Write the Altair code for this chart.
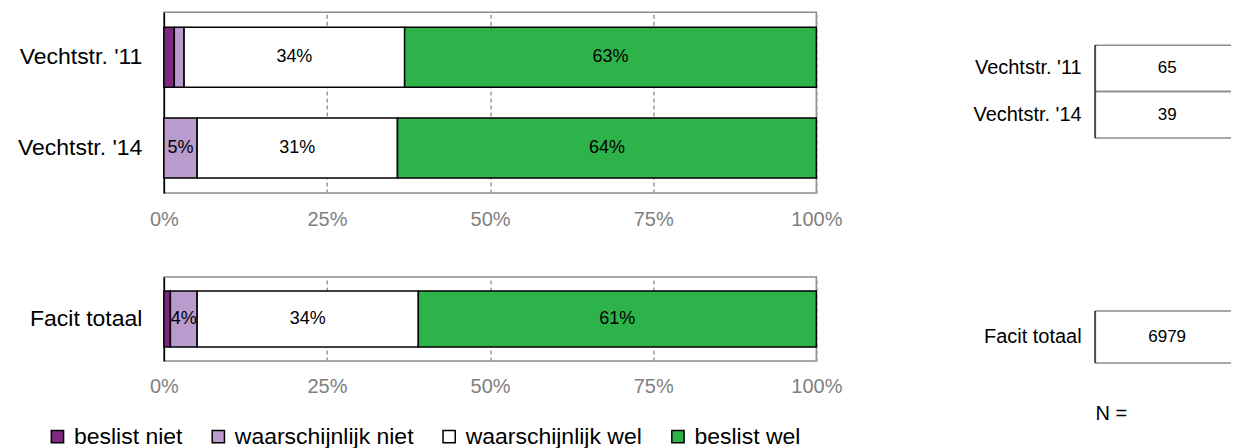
import altair as alt
import pandas as pd

# ---------------- data ----------------
ROWS_TOP = ["Vechtstr. '11", "Vechtstr. '14"]
ROWS_BOTTOM = ["Facit totaal"]
CATEGORIES = ["beslist niet", "waarschijnlijk niet", "waarschijnlijk wel", "beslist wel"]
COLORS = ["#7D2882", "#B99BCD", "#FFFFFF", "#2EB34A"]
VALUES_11 = [1.6, 1.5, 33.8, 63.1]
VALUES_14 = [0.0, 5.1, 30.7, 64.2]
VALUES_FACIT = [1.0, 4.1, 33.9, 61.0]
N_TOP = [65, 39]
N_BOTTOM = [6979]
TICKS = [0, 0.25, 0.5, 0.75, 1]

FONT = "Liberation Sans"


def bar_df(rows, series):
    recs = []
    for r, vals in zip(rows, series):
        for i, (c, v) in enumerate(zip(CATEGORIES, vals)):
            recs.append({"row": r, "cat": c, "order": i, "value": v / 100.0})
    return pd.DataFrame(recs)


color = alt.Color(
    "cat:N",
    scale=alt.Scale(domain=CATEGORIES, range=COLORS),
    legend=alt.Legend(
        title=None,
        orient="none",
        direction="horizontal",
        legendX=-118,
        legendY=413,
        symbolType="square",
        symbolSize=150,
        symbolStrokeColor="black",
        symbolStrokeWidth=1.5,
        symbolOpacity=1,
        labelFontSize=23,
        labelColor="black",
        labelOffset=5,
        columnPadding=24,
        labelLimit=0,
    ),
)


def bars(df, rows, height, pi, po):
    base = (
        alt.Chart(df)
        .transform_window(
            cum="sum(value)",
            sort=[alt.SortField("order")],
            groupby=["row"],
            frame=[None, 0],
        )
        .transform_calculate(
            start="datum.cum - datum.value",
            mid="datum.cum - datum.value / 2",
            label="datum.value >= 0.035 ? format(datum.value, '.0%') : ''",
        )
    )
    y = alt.Y(
        "row:N",
        sort=rows,
        scale=alt.Scale(paddingInner=pi, paddingOuter=po),
        axis=alt.Axis(
            title=None,
            ticks=False,
            domainColor="black",
            domainWidth=1.5,
            labelFontSize=23,
            labelColor="black",
            labelPadding=22,
            labelLimit=0,
            grid=False,
        ),
    )
    x = alt.X(
        "start:Q",
        scale=alt.Scale(domain=[0, 1], nice=False),
        axis=alt.Axis(
            values=TICKS,
            format=".0%",
            title=None,
            ticks=False,
            domain=False,
            grid=True,
            gridDash=[4, 3],
            gridColor="#9a9a9a",
            gridWidth=1.5,
            labelColor="#808080",
            labelFontSize=20,
            labelPadding=16,
            labelFlush=False,
        ),
    )
    rect = base.mark_bar(stroke="black", strokeWidth=1.5).encode(
        y=y, x=x, x2="cum:Q", color=color
    )
    text = base.mark_text(fontSize=18, color="black").encode(
        y=alt.Y("row:N", sort=rows), x="mid:Q", text="label:N"
    )
    return alt.layer(rect, text).properties(
        width=653,
        height=height,
        view=alt.ViewBackground(stroke="#8c8c8c", strokeWidth=1.5),
    )


def table(rows, ns, height, po, align, band, n_title):
    df = pd.DataFrame({"row": rows, "n": ns})
    yscale = alt.Scale(paddingInner=0, paddingOuter=po, align=align)
    y = alt.Y(
        "row:N",
        sort=rows,
        scale=yscale,
        axis=alt.Axis(
            title=None,
            ticks=False,
            domain=False,
            grid=False,
            labelFontSize=20,
            labelColor="black",
            labelPadding=14,
            labelLimit=0,
        ),
    )
    if n_title:
        xaxis = alt.Axis(
            labels=False,
            ticks=False,
            domain=False,
            grid=False,
            title="N =",
            titleFontSize=20,
            titleFontWeight="normal",
            titleColor="black",
            titleAnchor="start",
            titleAlign="left",
            titlePadding=37,
        )
    else:
        xaxis = None
    xs = alt.Scale(domain=[0, 1], nice=False)
    box = (
        alt.Chart(df)
        .mark_rect(fill="white", strokeWidth=0)
        .encode(
            y=y,
            x=alt.X(datum=0, scale=xs, axis=xaxis),
            x2=alt.datum(1),
        )
    )
    top_edges = (
        alt.Chart(df)
        .mark_rule(color="#8c8c8c", strokeWidth=1.5)
        .encode(
            y=alt.Y("row:N", sort=rows, bandPosition=0),
            x=alt.datum(0),
            x2=alt.datum(1),
        )
    )
    bottom_edges = (
        alt.Chart(df)
        .mark_rule(color="#8c8c8c", strokeWidth=1.5)
        .encode(
            y=alt.Y("row:N", sort=rows, bandPosition=1),
            x=alt.datum(0),
            x2=alt.datum(1),
        )
    )
    left = (
        alt.Chart(df)
        .mark_tick(orient="vertical", color="black", thickness=2, size=band)
        .encode(y=alt.Y("row:N", sort=rows), x=alt.datum(0))
    )
    txt = (
        alt.Chart(df)
        .mark_text(fontSize=17, color="black")
        .encode(y=alt.Y("row:N", sort=rows), x=alt.datum(0.53), text="n:Q")
    )
    return alt.layer(box, top_edges, bottom_edges, left, txt).properties(
        width=136,
        height=height,
        view=alt.ViewBackground(stroke="transparent"),
    )


top_bars = bars(bar_df(ROWS_TOP, [VALUES_11, VALUES_14]), ROWS_TOP, 181, 0.34, 0.165)
bottom_bars = bars(bar_df(ROWS_BOTTOM, [VALUES_FACIT]), ROWS_BOTTOM, 84, 0.0, 0.25)
top_table = table(ROWS_TOP, N_TOP, 181, 0.946, 0.375, 46.5, False)
bottom_table = table(ROWS_BOTTOM, N_BOTTOM, 90, 0.365, 0.895, 52, True)

chart = (
    alt.concat(
        top_bars,
        top_table,
        bottom_bars,
        bottom_table,
        columns=2,
        spacing={"row": 46, "column": 129},
        align="each",
        bounds="full",
    )
    .properties(padding={"left": 8, "top": 3, "right": 0, "bottom": 0})
    .configure(font=FONT)
)

chart.save("out.html", embed_options={"renderer": "svg", "actions": False})
